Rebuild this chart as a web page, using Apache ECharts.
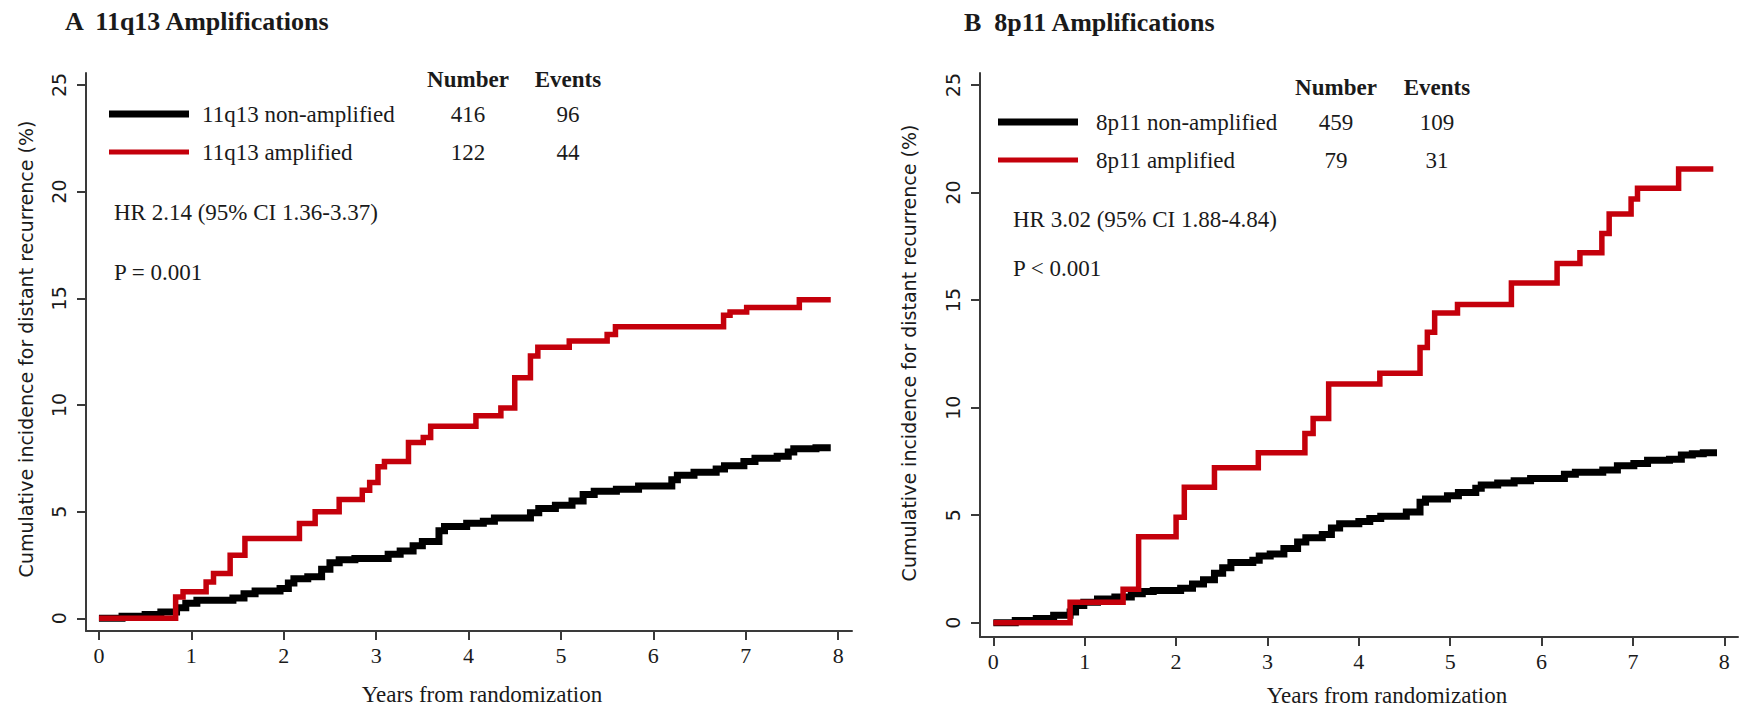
<!DOCTYPE html>
<html>
<head>
<meta charset="utf-8">
<script src="https://cdn.jsdelivr.net/npm/echarts@6/dist/echarts.min.js"></script>
<style>
html,body{margin:0;padding:0;background:#fff;}
#chart{width:1741px;height:707px;}
</style>
</head>
<body>
<div id="chart"></div>
<script>
// ---- Data ----
const xTicks = [0, 1, 2, 3, 4, 5, 6, 7, 8];
const yTicks = [0, 5, 10, 15, 20, 25];

// Panel A: 11q13
const aTitle = 'A  11q13 Amplifications';
const aGroups = ['11q13 non-amplified', '11q13 amplified'];
const aNumber = [416, 122];
const aEvents = [96, 44];
const aHR = 'HR 2.14 (95% CI 1.36-3.37)';
const aP = 'P = 0.001';
const aNonAmpT = [0, 0.25, 0.5, 0.67, 0.84, 0.94, 1.06, 1.45, 1.57, 1.69, 1.96, 2.05, 2.11, 2.26, 2.41, 2.5, 2.6, 2.77, 3.13, 3.26, 3.4, 3.5, 3.68, 3.74, 3.98, 4.16, 4.28, 4.67, 4.76, 4.94, 5.12, 5.24, 5.36, 5.6, 5.84, 6.2, 6.26, 6.44, 6.68, 6.77, 6.98, 7.1, 7.34, 7.46, 7.52, 7.76, 7.92];
const aNonAmpY = [0, 0.1, 0.18, 0.3, 0.5, 0.7, 0.85, 0.95, 1.15, 1.28, 1.4, 1.65, 1.85, 1.95, 2.3, 2.6, 2.75, 2.8, 3.0, 3.15, 3.4, 3.6, 4.1, 4.3, 4.45, 4.55, 4.7, 4.95, 5.15, 5.3, 5.5, 5.8, 5.95, 6.05, 6.2, 6.5, 6.7, 6.85, 7.0, 7.15, 7.35, 7.5, 7.6, 7.8, 7.95, 8.0, 8.0];
const aAmpT = [0, 0.83, 0.91, 1.16, 1.24, 1.42, 1.58, 2.17, 2.34, 2.6, 2.85, 2.93, 3.02, 3.09, 3.35, 3.51, 3.59, 4.08, 4.35, 4.5, 4.67, 4.75, 5.09, 5.5, 5.59, 6.76, 6.83, 7.01, 7.58, 7.92];
const aAmpY = [0, 1.0, 1.25, 1.7, 2.1, 2.95, 3.74, 4.44, 5.0, 5.57, 6.0, 6.37, 7.1, 7.35, 8.24, 8.48, 9.0, 9.5, 9.86, 11.27, 12.3, 12.7, 13.0, 13.3, 13.67, 14.2, 14.36, 14.57, 14.93, 14.93];

// Panel B: 8p11
const bTitle = 'B  8p11 Amplifications';
const bGroups = ['8p11 non-amplified', '8p11 amplified'];
const bNumber = [459, 79];
const bEvents = [109, 31];
const bHR = 'HR 3.02 (95% CI 1.88-4.84)';
const bP = 'P < 0.001';
const bNonAmpT = [0, 0.24, 0.47, 0.66, 0.84, 0.9, 0.99, 1.14, 1.33, 1.51, 1.63, 1.75, 2.05, 2.18, 2.3, 2.42, 2.51, 2.6, 2.84, 2.91, 3.03, 3.18, 3.33, 3.42, 3.6, 3.7, 3.79, 4.0, 4.12, 4.24, 4.52, 4.67, 4.73, 4.97, 5.09, 5.28, 5.34, 5.52, 5.7, 5.88, 6.25, 6.37, 6.67, 6.83, 7.01, 7.16, 7.4, 7.53, 7.65, 7.77, 7.92];
const bNonAmpY = [0, 0.1, 0.2, 0.35, 0.5, 0.8, 0.95, 1.1, 1.2, 1.35, 1.45, 1.5, 1.6, 1.8, 2.0, 2.3, 2.55, 2.8, 2.9, 3.1, 3.2, 3.45, 3.75, 3.95, 4.1, 4.4, 4.6, 4.7, 4.85, 4.95, 5.15, 5.6, 5.75, 5.9, 6.05, 6.25, 6.4, 6.5, 6.6, 6.7, 6.9, 7.0, 7.1, 7.3, 7.4, 7.55, 7.6, 7.8, 7.85, 7.9, 7.9];
const bAmpT = [0, 0.84, 1.42, 1.59, 2.0, 2.09, 2.42, 2.9, 3.41, 3.5, 3.67, 4.23, 4.67, 4.75, 4.83, 5.08, 5.67, 6.17, 6.42, 6.66, 6.74, 6.98, 7.05, 7.5, 7.88];
const bAmpY = [0, 0.95, 1.55, 4.0, 4.9, 6.3, 7.2, 7.9, 8.8, 9.5, 11.1, 11.6, 12.8, 13.5, 14.4, 14.8, 15.8, 16.7, 17.2, 18.1, 19.0, 19.7, 20.2, 21.1, 21.1];

const yTitle = 'Cumulative incidence for distant recurrence (%)';
const xTitle = 'Years from randomization';

// ---- Styles ----
const RED = '#c4000b';
const BLACK = '#000000';
const AXIS = '#3a3a3a';
const TXT = '#1a1a1a';
const SERIF = '"Liberation Serif", "Times New Roman", serif';
const SANS = '"DejaVu Sans", sans-serif';

const zip = (t, y) => t.map((v, i) => [v, y[i]]);

function xAxisCfg(gi, min, max) {
  return {
    gridIndex: gi, type: 'value', min: min, max: max,
    splitLine: { show: false },
    axisLine: { show: true, onZero: false, lineStyle: { color: AXIS, width: 2 } },
    axisTick: { show: true, customValues: xTicks, length: 9, lineStyle: { color: AXIS, width: 2 } },
    axisLabel: { customValues: xTicks, margin: 13, fontFamily: SERIF, fontSize: 22, color: TXT, verticalAlign: 'top' }
  };
}
function yAxisCfg(gi, min, max) {
  return {
    gridIndex: gi, type: 'value', min: min, max: max,
    splitLine: { show: false },
    axisLine: { show: true, onZero: false, lineStyle: { color: AXIS, width: 2 } },
    axisTick: { show: true, customValues: yTicks, length: 9, lineStyle: { color: AXIS, width: 2 } },
    axisLabel: { customValues: yTicks, rotate: 90, margin: 18, fontFamily: SANS, fontSize: 19, color: TXT }
  };
}
function stepSeries(xi, data, color, width, z) {
  return {
    type: 'line', xAxisIndex: xi, yAxisIndex: xi, step: 'end', symbol: 'none',
    data: data, z: z, silent: true, animation: false,
    lineStyle: { color: color, width: width, join: 'miter', cap: 'butt' }
  };
}

function txt(x, y, s, opts) {
  opts = opts || {};
  return {
    type: 'text', x: x, y: y, rotation: opts.rotation || 0, silent: true,
    style: {
      text: s, fill: TXT,
      font: (opts.bold ? 'bold ' : '') + (opts.size || 23) + 'px ' + (opts.family || SERIF),
      align: opts.align || 'left', verticalAlign: 'middle'
    }
  };
}
function legLine(x1, x2, y, color, w) {
  return { type: 'line', silent: true, shape: { x1: x1, y1: y, x2: x2, y2: y }, style: { stroke: color, lineWidth: w } };
}

function panelGraphics(p) {
  return [
    txt(p.titleX, p.titleY, p.title, { bold: true, size: 26 }),
    txt(p.numX, p.hdrY, 'Number', { bold: true, align: 'center' }),
    txt(p.evX, p.hdrY, 'Events', { bold: true, align: 'center' }),
    legLine(p.legX1, p.legX2, p.row1Y, BLACK, 7),
    legLine(p.legX1, p.legX2, p.row2Y, RED, 5),
    txt(p.legTextX, p.row1Y, p.groups[0]),
    txt(p.legTextX, p.row2Y, p.groups[1]),
    txt(p.numX, p.row1Y, String(p.number[0]), { align: 'center' }),
    txt(p.numX, p.row2Y, String(p.number[1]), { align: 'center' }),
    txt(p.evX, p.row1Y, String(p.events[0]), { align: 'center' }),
    txt(p.evX, p.row2Y, String(p.events[1]), { align: 'center' }),
    txt(p.statX, p.hrY, p.hr),
    txt(p.statX, p.pY, p.p),
    txt(p.xTitleX, p.xTitleY, xTitle, { align: 'center' }),
    txt(p.yTitleX, p.yTitleY, yTitle, { align: 'center', family: SANS, size: 19, rotation: Math.PI / 2 })
  ];
}

const graphics = [].concat(
  panelGraphics({
    title: aTitle, titleX: 65, titleY: 21, groups: aGroups, number: aNumber, events: aEvents,
    numX: 468, evX: 568, hdrY: 79, row1Y: 114, row2Y: 152, legX1: 109, legX2: 189, legTextX: 202,
    statX: 114, hr: aHR, p: aP, hrY: 212, pY: 272,
    xTitleX: 482, xTitleY: 694, yTitleX: 26, yTitleY: 349
  }),
  panelGraphics({
    title: bTitle, titleX: 964, titleY: 22, groups: bGroups, number: bNumber, events: bEvents,
    numX: 1336, evX: 1437, hdrY: 87, row1Y: 122, row2Y: 160, legX1: 998, legX2: 1078, legTextX: 1096,
    statX: 1013, hr: bHR, p: bP, hrY: 219, pY: 268,
    xTitleX: 1387, xTitleY: 695, yTitleX: 909, yTitleY: 353
  })
);

const chart = echarts.init(document.getElementById('chart'), null, { renderer: 'svg', width: 1741, height: 707 });
chart.setOption({
  backgroundColor: '#ffffff',
  animation: false,
  grid: [
    { left: 86, top: 73, width: 766, height: 558 },
    { left: 980, top: 73, width: 758, height: 564 }
  ],
  xAxis: [xAxisCfg(0, -0.14, 8.15), xAxisCfg(1, -0.146, 8.15)],
  yAxis: [yAxisCfg(0, -0.595, 25.56), yAxisCfg(1, -0.665, 25.56)],
  series: [
    stepSeries(0, zip(aNonAmpT, aNonAmpY), BLACK, 7, 2),
    stepSeries(0, zip(aAmpT, aAmpY), RED, 5.5, 3),
    stepSeries(1, zip(bNonAmpT, bNonAmpY), BLACK, 7, 2),
    stepSeries(1, zip(bAmpT, bAmpY), RED, 5.5, 3)
  ],
  graphic: graphics
});
</script>
</body>
</html>
